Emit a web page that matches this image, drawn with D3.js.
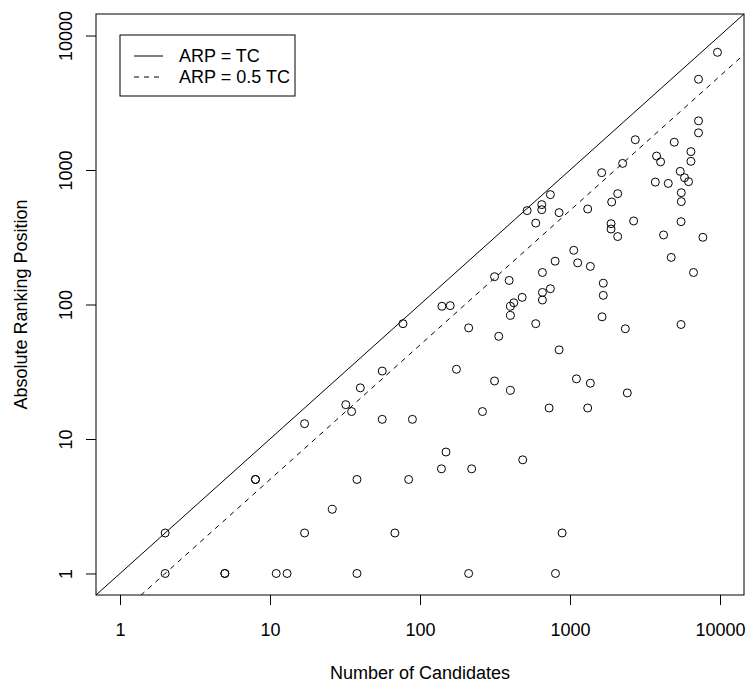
<!DOCTYPE html>
<html>
<head>
<meta charset="utf-8">
<script src="https://cdn.jsdelivr.net/npm/d3@7"></script>
<style>
  body { margin: 0; background: #fff; }
  text { font-family: "Liberation Sans", Arial, sans-serif; }
</style>
</head>
<body>
<svg id="chart" width="748" height="682"></svg>
<script>
// total candidates (x) and absolute ranking position (y)
var candidates = [2, 2, 5, 5, 8, 8, 11, 13, 17, 17, 26, 32, 35, 40, 38, 38, 56, 56, 89, 175,
    314, 401, 261, 846, 1104, 1367, 2410, 726, 1312, 149, 139, 221, 484, 84, 68, 886, 211, 800,
    9620, 7190, 7190, 7190, 2725, 4955, 6400, 6400, 3777, 4017, 2244, 5430, 5800, 6170, 1626,
    3705, 4520, 5520, 5520, 2080, 1896, 740, 648, 648, 518, 846, 1312, 591, 1878, 1878, 2080,
    2655, 5500, 4205, 7690, 1059, 1125, 1367, 796, 4730, 6660, 655, 314, 393, 1667, 1667, 655,
    740, 655, 480, 422, 401, 401, 140, 159, 77, 211, 591, 1636, 2338, 5500, 335];
var positions = [2, 1, 1, 1, 5, 5, 1, 1, 13, 2, 3, 18, 16, 24, 5, 1, 32, 14, 14, 33,
    27, 23, 16, 46, 28, 26, 22, 17, 17, 8, 6, 6, 7, 5, 2, 2, 1, 1,
    7500, 4730, 2320, 1890, 1680, 1610, 1370, 1160, 1270, 1150, 1120, 977, 877, 819, 955,
    813, 795, 678, 582, 667, 578, 656, 553, 507, 499, 482, 513, 403, 399, 364, 320,
    418, 413, 329, 316, 253, 204, 192, 210, 224, 173, 173, 161, 151, 144, 117, 123,
    131, 108, 113, 103, 97, 83, 97, 98, 72, 67, 72, 81, 66, 71, 58];
var tickValues = [1, 10, 100, 1000, 10000];
var refLines = [
    { label: "ARP = TC", ratio: 1, dash: null },
    { label: "ARP = 0.5 TC", ratio: 0.5, dash: "5,5" }
];

var svg = d3.select("#chart");
var plotLeft = 96, plotRight = 744, plotTop = 14, plotBottom = 595;
var fontSize = 18;

// R style log axes: data range 1..10000 padded by 4% each side
var lo = Math.pow(10, -0.16), hi = Math.pow(10, 4.16);
var x = d3.scaleLog().domain([lo, hi]).range([plotLeft, plotRight]);
var y = d3.scaleLog().domain([lo, hi]).range([plotBottom, plotTop]);

svg.append("clipPath").attr("id", "plotclip")
    .append("rect")
    .attr("x", plotLeft).attr("y", plotTop)
    .attr("width", plotRight - plotLeft).attr("height", plotBottom - plotTop);

// reference lines
var plot = svg.append("g").attr("clip-path", "url(#plotclip)");
refLines.forEach(function(l) {
    plot.append("line")
        .attr("x1", x(lo)).attr("y1", y(lo * l.ratio))
        .attr("x2", x(hi)).attr("y2", y(hi * l.ratio))
        .attr("stroke", "#000")
        .attr("stroke-width", 1)
        .attr("stroke-dasharray", l.dash);
});

// points
var points = candidates.map(function(c, i) { return [c, positions[i]]; });
plot.selectAll("circle.pt")
    .data(points)
    .enter().append("circle")
    .attr("class", "pt")
    .attr("cx", function(d) { return x(d[0]); })
    .attr("cy", function(d) { return y(d[1]); })
    .attr("r", 4)
    .attr("fill", "none")
    .attr("stroke", "#000")
    .attr("stroke-width", 1);

// axes
var xAxis = d3.axisBottom(x).tickValues(tickValues).tickFormat(d3.format("d"))
    .tickSize(10).tickPadding(18);
var gx = svg.append("g").attr("transform", "translate(0," + plotBottom + ")").call(xAxis);
gx.select(".domain").remove();
gx.selectAll("text").attr("font-size", fontSize).attr("fill", "#000")
    .attr("font-family", "Liberation Sans, Arial, sans-serif");

var yAxis = d3.axisLeft(y).tickValues(tickValues).tickFormat(d3.format("d"))
    .tickSize(10);
var gy = svg.append("g").attr("transform", "translate(" + plotLeft + ",0)").call(yAxis);
gy.select(".domain").remove();
gy.selectAll("text")
    .attr("font-size", fontSize).attr("fill", "#000")
    .attr("font-family", "Liberation Sans, Arial, sans-serif")
    .attr("x", null).attr("dy", null)
    .attr("text-anchor", "middle")
    .attr("transform", "translate(-24,0) rotate(-90)");

// box
svg.append("rect")
    .attr("x", plotLeft).attr("y", plotTop)
    .attr("width", plotRight - plotLeft).attr("height", plotBottom - plotTop)
    .attr("fill", "none").attr("stroke", "#000").attr("stroke-width", 1);

// axis titles
svg.append("text")
    .attr("x", (plotLeft + plotRight) / 2).attr("y", 679)
    .attr("text-anchor", "middle").attr("font-size", fontSize)
    .text("Number of Candidates");
svg.append("text")
    .attr("transform", "translate(27," + (plotTop + plotBottom) / 2 + ") rotate(-90)")
    .attr("text-anchor", "middle").attr("font-size", fontSize)
    .text("Absolute Ranking Position");

// legend
var legend = svg.append("g");
legend.append("rect")
    .attr("x", 120).attr("y", 35).attr("width", 175).attr("height", 61)
    .attr("fill", "#fff").attr("stroke", "#000").attr("stroke-width", 1);
refLines.forEach(function(l, i) {
    var ly = 56 + i * 21;
    legend.append("line")
        .attr("x1", 134).attr("x2", 163).attr("y1", ly).attr("y2", ly)
        .attr("stroke", "#000").attr("stroke-dasharray", l.dash);
    legend.append("text")
        .attr("x", 179).attr("y", ly).attr("dy", "0.35em")
        .attr("font-size", fontSize)
        .text(l.label);
});
</script>
</body>
</html>
